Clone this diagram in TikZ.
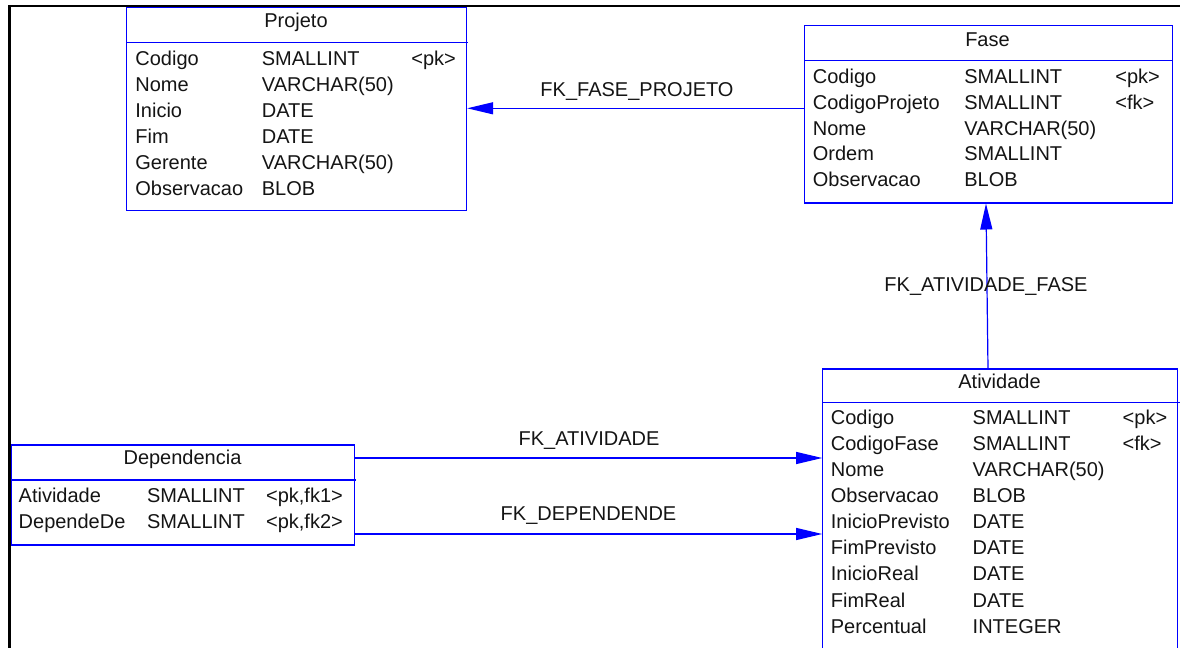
\documentclass[tikz,border=0pt]{standalone}
\usepackage{fontspec}
\setmainfont{Liberation Sans}
\usetikzlibrary{arrows.meta}
\definecolor{erblue}{RGB}{0,0,255}
\definecolor{ertext}{RGB}{20,20,20}
\tikzset{
  tbl/.style={draw=erblue, line width=0.6pt, inner sep=0pt, anchor=north west},
  sep/.style={draw=erblue, line width=0.6pt},
  txt/.style={inner sep=0pt, anchor=base west, font=\fontsize{10}{12}\selectfont, text=ertext},
  ttl/.style={inner sep=0pt, anchor=base, font=\fontsize{10}{12}\selectfont, text=ertext},
  fk/.style={draw=erblue, line width=0.6pt, -{Triangle[length=13pt,width=6pt]}},
  frame/.style={line width=1.1pt, black}
}
\begin{document}
\begin{tikzpicture}[x=0.5pt, y=-0.5pt]
\clip (0,0) rectangle (1180,648);
\useasboundingbox (0,0) rectangle (1180,648);

% page frame
\draw[frame] (9.5,660) -- (9.5,5.7) -- (1190,5.7);

% ---- Projeto ----
\node[tbl, minimum width=170pt, minimum height=101.5pt] (projeto) at (126,7) {};
\draw[sep] (projeto.north west) ++(0,35.3) -- ++(342,0);
\node[ttl] (projeto-t) at (296,27.5) {Projeto};
\foreach \n/\t [count=\i] in {Codigo/SMALLINT, Nome/VARCHAR(50), Inicio/DATE, Fim/DATE, Gerente/VARCHAR(50), Observacao/BLOB}{
  \node[txt] (projeto-n\i) at (135,{65.6+25.9*(\i-1)}) {\n};
  \node[txt] (projeto-y\i) at (261.5,{65.6+25.9*(\i-1)}) {\t};
}
\node[txt] (projeto-k1) at (411,65.6) {<pk>};

% ---- Fase ----
\node[tbl, minimum width=183.75pt, minimum height=88.9pt] (fase) at (804,24.5) {};
\draw[sep] (fase.north west) ++(0,36.2) -- ++(369,0);
\node[ttl] (fase-t) at (987.5,46.7) {Fase};
\foreach \n/\t [count=\i] in {Codigo/SMALLINT, CodigoProjeto/SMALLINT, Nome/VARCHAR(50), Ordem/SMALLINT, Observacao/BLOB}{
  \node[txt] (fase-n\i) at (812.5,{83.3+25.85*(\i-1)}) {\n};
  \node[txt] (fase-y\i) at (964,{83.3+25.85*(\i-1)}) {\t};
}
\node[txt] (fase-k1) at (1115,83.3) {<pk>};
\node[txt] (fase-k2) at (1115,109.15) {<fk>};

% ---- Atividade ----
\node[tbl, minimum width=177.5pt, minimum height=150pt] (atividade) at (822.2,368.3) {};
\draw[sep] (atividade.north west) ++(0,34) -- ++(360,0);
\node[ttl] (atividade-t) at (999.5,388.3) {Atividade};
\foreach \n/\t [count=\i] in {Codigo/SMALLINT, CodigoFase/SMALLINT, Nome/VARCHAR(50), Observacao/BLOB, InicioPrevisto/DATE, FimPrevisto/DATE, InicioReal/DATE, FimReal/DATE, Percentual/INTEGER}{
  \node[txt] (atividade-n\i) at (830.5,{424+26.15*(\i-1)}) {\n};
  \node[txt] (atividade-y\i) at (972.3,{424+26.15*(\i-1)}) {\t};
}
\node[txt] (atividade-k1) at (1122.3,424) {<pk>};
\node[txt] (atividade-k2) at (1122.3,450.15) {<fk>};

% ---- Dependencia ----
\node[tbl, minimum width=171.5pt, minimum height=50pt] (dependencia) at (11,444.3) {};
\draw[sep] (dependencia.north west) ++(0,35.7) -- ++(345,0);
\node[ttl] (dependencia-t) at (182.5,464.3) {Dependencia};
\node[txt] (dependencia-n1) at (18.3,502.6) {Atividade};
\node[txt] (dependencia-y1) at (146.7,502.6) {SMALLINT};
\node[txt] (dependencia-k1) at (265.7,502.6) {<pk,fk1>};
\node[txt] (dependencia-n2) at (18.3,528.4) {DependeDe};
\node[txt] (dependencia-y2) at (146.7,528.4) {SMALLINT};
\node[txt] (dependencia-k2) at (265.7,528.4) {<pk,fk2>};

% ---- references ----
\coordinate (yFP) at (0,108.3);
\coordinate (xAFa) at (988,0);
\coordinate (xAFb) at (986,0);
\coordinate (yAT) at (0,458);
\coordinate (yDP) at (0,534);

\draw[fk] (fase.west |- yFP) -- (projeto.east |- yFP);
\draw[fk] (atividade.north -| xAFa) -- (fase.south -| xAFb);
\draw[fk] (dependencia.east |- yAT) -- (atividade.west |- yAT);
\draw[fk] (dependencia.east |- yDP) -- (atividade.west |- yDP);

\node[ttl] (l-fp) at (637,96.7) {FK\_FASE\_PROJETO};
\node[ttl] (l-af) at (986,291) {FK\_ATIVIDADE\_FASE};
\node[ttl] (l-at) at (589,445) {FK\_ATIVIDADE};
\node[ttl] (l-dp) at (588.5,520.7) {FK\_DEPENDENDE};
\end{tikzpicture}
\end{document}
